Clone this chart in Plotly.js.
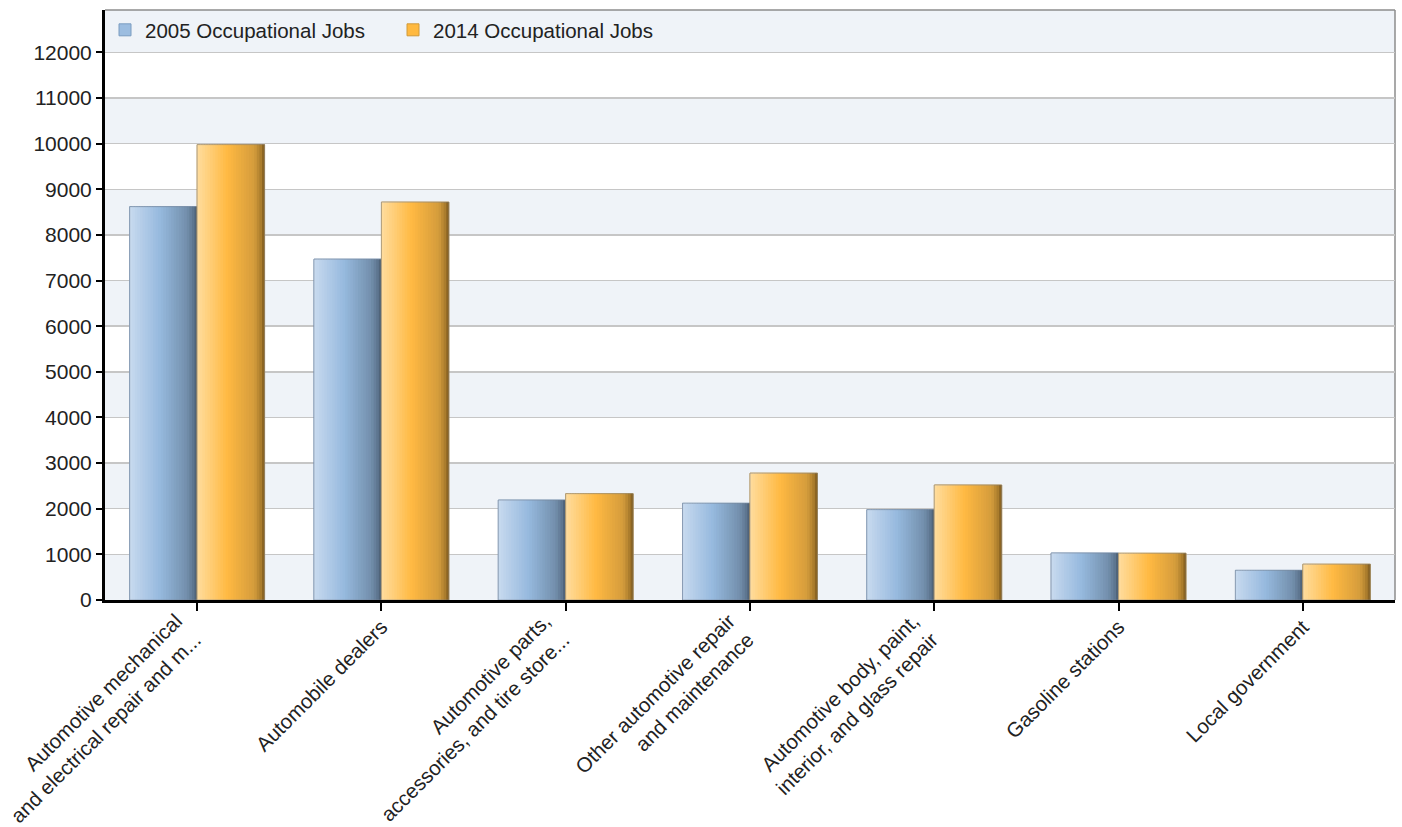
<!DOCTYPE html>
<html>
<head>
<meta charset="utf-8">
<script src="https://cdn.plot.ly/plotly-3.0.1.min.js"></script>
<style>
  html, body { margin: 0; padding: 0; background: #ffffff; }
  #chart { width: 1402px; height: 827px; }
</style>
</head>
<body>
<div id="chart"></div>
<script>
// ---- data ----
const categories = [
  "Automotive mechanical<br>and electrical repair and m...",
  "Automobile dealers",
  "Automotive parts,<br>accessories, and tire store...",
  "Other automotive repair<br>and maintenance",
  "Automotive body, paint,<br>interior, and glass repair",
  "Gasoline stations",
  "Local government"
];
const seriesNames = ["2005 Occupational Jobs", "2014 Occupational Jobs"];
const jobs2005 = [8620, 7470, 2190, 2120, 1980, 1030, 650];
const jobs2014 = [9980, 8720, 2330, 2780, 2520, 1025, 785];
const yTickValues = [0, 1000, 2000, 3000, 4000, 5000, 6000, 7000, 8000, 9000, 10000, 11000, 12000];
const yMax = 12930;

// tick label sets (single-line labels on the main axis, two-line labels on an overlay axis)
const singleLineLabels = categories.map(c => c.includes("<br>") ? "" : c);
const multiLineLabels = categories.map(c => c.includes("<br>") ? c : "");

// ---- styling ----
const FONT = "Liberation Sans, Arial, Helvetica, sans-serif";
const BAR_W = 0.366;
const STRIPS = 26;
const blueStops = [[0, [200, 218, 239]], [0.45, [150, 185, 222]], [0.85, [115, 143, 172]], [0.95, [92, 116, 142]], [1, [72, 90, 110]]];
const orangeStops = [[0, [255, 221, 158]], [0.45, [255, 185, 66]], [0.85, [212, 156, 60]], [0.95, [168, 122, 44]], [1, [122, 88, 30]]];

function interp(stops, t) {
  for (let i = 0; i < stops.length - 1; i++) {
    const [t0, c0] = stops[i], [t1, c1] = stops[i + 1];
    if (t >= t0 && t <= t1) {
      const f = (t - t0) / (t1 - t0 || 1);
      const c = c0.map((v, k) => Math.round(v + (c1[k] - v) * f));
      return `rgb(${c[0]},${c[1]},${c[2]})`;
    }
  }
  const c = stops[stops.length - 1][1];
  return `rgb(${c[0]},${c[1]},${c[2]})`;
}

const traces = [];
function addSeries(name, values, baseOffset, stops, legendColor, legendLine) {
  traces.push({
    type: "bar", name: name, x: categories, y: values,
    offset: baseOffset, width: BAR_W,
    marker: { color: legendColor, line: { color: legendLine, width: 1 } },
    hoverinfo: "y+name"
  });
  const sw = BAR_W / STRIPS;
  for (let i = 0; i < STRIPS; i++) {
    const t = (i + 0.5) / STRIPS;
    traces.push({
      type: "bar", x: categories, y: values, showlegend: false, hoverinfo: "skip",
      offset: baseOffset + i * sw, width: sw * (i < STRIPS - 1 ? 1.6 : 1),
      marker: { color: interp(stops, t), line: { width: 0 } }
    });
  }
  traces.push({
    type: "bar", x: categories, y: values, showlegend: false, hoverinfo: "skip",
    offset: baseOffset, width: BAR_W,
    marker: { color: "rgba(0,0,0,0)", line: { color: "rgba(120,130,145,0.5)", width: 1 } }
  });
}
addSeries(seriesNames[0], jobs2005, -BAR_W, blueStops, "#9cbde0", "#7b9cc0");
addSeries(seriesNames[1], jobs2014, 0, orangeStops, "#ffb940", "#d09a3a");

// invisible carrier so the overlay label axis is drawn
traces.push({
  type: "scatter", mode: "none", x: categories, y: jobs2005,
  xaxis: "x2", yaxis: "y", showlegend: false, hoverinfo: "skip"
});

// alternating bands
const shapes = [];
for (let i = 0; i < yTickValues.length; i++) {
  if (i % 2 === 0) {
    const y1 = i + 1 < yTickValues.length ? yTickValues[i + 1] : yMax;
    shapes.push({ type: "rect", xref: "paper", yref: "y", x0: 0, x1: 1, y0: yTickValues[i], y1: y1,
      fillcolor: "#eff3f8", line: { width: 0 }, layer: "below" });
  }
}
shapes.push({ type: "line", xref: "paper", yref: "paper", x0: 0, x1: 1, y0: 1, y1: 1, line: { color: "#8c8c8c", width: 1.5 }, layer: "below" });
shapes.push({ type: "line", xref: "paper", yref: "paper", x0: 1, x1: 1, y0: 0, y1: 1, line: { color: "#8c8c8c", width: 1.5 }, layer: "below" });

const tickFont = { family: FONT, size: 20.5, color: "#222222" };
const layout = {
  width: 1402, height: 827,
  margin: { l: 105, r: 7, t: 10, b: 227 },
  paper_bgcolor: "#ffffff", plot_bgcolor: "#ffffff",
  barmode: "overlay",
  showlegend: true,
  legend: {
    orientation: "h", x: 0, y: 1, xanchor: "left", yanchor: "top",
    bgcolor: "rgba(0,0,0,0)", font: { family: FONT, size: 20.5, color: "#222222" },
    entrywidth: 243, traceorder: "normal"
  },
  xaxis: {
    type: "category", range: [-0.5, 6.5],
    tickvals: categories, ticktext: singleLineLabels,
    showline: true, linecolor: "#000000", linewidth: 3,
    ticks: "outside", ticklen: 8, tickwidth: 2, tickcolor: "#000000",
    tickangle: -45, ticklabelstandoff: -4, showgrid: false, zeroline: false,
    tickfont: tickFont
  },
  xaxis2: {
    overlaying: "x", anchor: "y", side: "bottom", type: "category", range: [-0.5, 6.5],
    tickvals: categories, ticktext: multiLineLabels,
    showline: false, showgrid: false, zeroline: false,
    ticks: "outside", ticklen: 8, tickwidth: 0, tickcolor: "rgba(0,0,0,0)",
    tickangle: -45, ticklabelshift: -21, ticklabelstandoff: -8,
    tickfont: tickFont
  },
  yaxis: {
    range: [0, yMax], tickvals: yTickValues, ticktext: yTickValues.map(String),
    showline: true, linecolor: "#000000", linewidth: 3,
    ticks: "outside", ticklen: 6, tickwidth: 2, tickcolor: "#000000",
    showgrid: true, gridcolor: "#c6c6c6", gridwidth: 1.5, zeroline: false,
    tickfont: { family: FONT, size: 21, color: "#222222" }
  },
  shapes: shapes
};

Plotly.newPlot("chart", traces, layout, { displayModeBar: false, staticPlot: true });
</script>
</body>
</html>
